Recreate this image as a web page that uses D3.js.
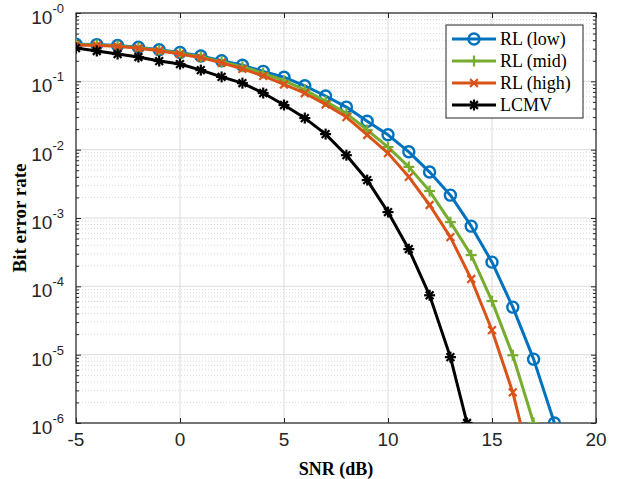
<!DOCTYPE html>
<html>
<head>
<meta charset="utf-8">
<script src="https://cdn.jsdelivr.net/npm/d3@7"></script>
<style>
  body { margin: 0; background: #fff; }
  svg { display: block; }
</style>
</head>
<body>
<div id="chart"></div>
<script>
// SNR points (dB)
const snr = [-5, -4, -3, -2, -1, 0, 1, 2, 3, 4, 5, 6, 7, 8, 9, 10, 11, 12, 13, 14, 15, 16, 17, 18];
const snrLcmv = [-5, -4, -3, -2, -1, 0, 1, 2, 3, 4, 5, 6, 7, 8, 9, 10, 11, 12, 13, 13.8];

// bit error rates
const berLow = [0.35, 0.345, 0.335, 0.315, 0.29, 0.265, 0.235, 0.2, 0.172, 0.14, 0.115, 0.086, 0.061, 0.042,
  0.026, 0.0165, 0.0093, 0.0047, 0.00216, 7.6e-4, 2.26e-4, 4.96e-5, 8.6e-6, 1.0e-6];
const berMid = [0.345, 0.34, 0.33, 0.31, 0.285, 0.258, 0.228, 0.193, 0.163, 0.132, 0.102, 0.075, 0.051, 0.034,
  0.0194, 0.0109, 0.0056, 0.00248, 8.7e-4, 2.86e-4, 6.07e-5, 9.8e-6, 1.0e-6];
const berHigh = [0.34, 0.335, 0.325, 0.305, 0.28, 0.252, 0.222, 0.187, 0.152, 0.12, 0.09, 0.067, 0.046, 0.030,
  0.0164, 0.0089, 0.0040, 0.00155, 5.25e-4, 1.28e-4, 2.28e-5, 2.8e-6, 1.7e-7];
const berLcmv = [0.307, 0.278, 0.251, 0.227, 0.198, 0.179, 0.146, 0.116, 0.094, 0.0674, 0.045, 0.029, 0.0169,
  0.0083, 0.00359, 0.00122, 3.5e-4, 7.4e-5, 9.2e-6, 1.0e-6];

const seriesNames = ["RL (low)", "RL (mid)", "RL (high)", "LCMV"];
const xTicks = [-5, 0, 5, 10, 15, 20];
const yExponents = [0, -1, -2, -3, -4, -5, -6];

function init() {
  const w = 619;
  const h = 479;
  const margin = { left: 76, right: 23, top: 13, bottom: 56 };

  const svg = d3.select("#chart").append("svg").attr("width", w).attr("height", h);

  const x = d3.scaleLinear().domain([-5, 20]).range([margin.left, w - margin.right]);
  const y = d3.scaleLog().domain([1e-6, 1]).range([h - margin.bottom, margin.top]);

  const x0 = x.range()[0], x1 = x.range()[1];
  const yTop = y.range()[1], yBot = y.range()[0];

  // minor log positions 2..9 in each decade
  const minor = [];
  yExponents.slice(1).forEach(function (e) {
    for (let k = 2; k <= 9; k++) minor.push(k * Math.pow(10, e));
  });

  const grid = svg.append("g");
  grid.selectAll("line.minor").data(minor).enter().append("line")
    .attr("x1", x0).attr("x2", x1)
    .attr("y1", (d) => y(d)).attr("y2", (d) => y(d))
    .attr("stroke", "#d8d8d8").attr("stroke-width", 1)
    .attr("stroke-dasharray", "1,2");
  grid.selectAll("line.hmaj").data(yExponents).enter().append("line")
    .attr("x1", x0).attr("x2", x1)
    .attr("y1", (d) => y(Math.pow(10, d))).attr("y2", (d) => y(Math.pow(10, d)))
    .attr("stroke", "#dcdcdc").attr("stroke-width", 1);
  grid.selectAll("line.vmaj").data(xTicks).enter().append("line")
    .attr("x1", (d) => x(d)).attr("x2", (d) => x(d))
    .attr("y1", yTop).attr("y2", yBot)
    .attr("stroke", "#dcdcdc").attr("stroke-width", 1);

  // axes (inward ticks, all four sides)
  const axisColor = "#262626";
  const bottomAxis = d3.axisBottom(x).tickValues(xTicks).tickSize(-5).tickFormat("");
  const topAxis = d3.axisTop(x).tickValues(xTicks).tickSize(-5).tickFormat("");
  svg.append("g").attr("transform", `translate(0,${yBot})`).call(bottomAxis);
  svg.append("g").attr("transform", `translate(0,${yTop})`).call(topAxis);

  const majorVals = yExponents.map((e) => Math.pow(10, e));
  svg.append("g").attr("transform", `translate(${x0},0)`)
    .call(d3.axisLeft(y).tickValues(majorVals).tickSize(-5).tickFormat(""));
  svg.append("g").attr("transform", `translate(${x0},0)`)
    .call(d3.axisLeft(y).tickValues(minor).tickSize(-3).tickFormat(""));
  svg.append("g").attr("transform", `translate(${x1},0)`)
    .call(d3.axisRight(y).tickValues(majorVals).tickSize(-5).tickFormat(""));
  svg.append("g").attr("transform", `translate(${x1},0)`)
    .call(d3.axisRight(y).tickValues(minor).tickSize(-3).tickFormat(""));
  svg.selectAll(".domain").remove();
  svg.selectAll(".tick line").attr("stroke", axisColor);

  svg.append("rect")
    .attr("x", x0).attr("y", yTop)
    .attr("width", x1 - x0).attr("height", yBot - yTop)
    .attr("fill", "none").attr("stroke", axisColor).attr("stroke-width", 1.2);

  // tick labels
  svg.selectAll("text.xt").data(xTicks).enter().append("text")
    .attr("x", (d) => x(d)).attr("y", yBot + 23)
    .attr("text-anchor", "middle")
    .attr("font-family", "Liberation Sans, Arial, sans-serif")
    .attr("font-size", "19px").attr("fill", "#262626")
    .text((d) => d);

  const yt = svg.selectAll("text.yt").data(yExponents).enter().append("text")
    .attr("x", x0 - 12).attr("y", (d) => y(Math.pow(10, d)) + 11)
    .attr("text-anchor", "end")
    .attr("font-family", "Liberation Sans, Arial, sans-serif")
    .attr("fill", "#262626");
  yt.append("tspan").attr("font-size", "19px").text("10");
  yt.append("tspan").attr("font-size", "13px").attr("dy", -11).text((d) => "-" + Math.abs(d));

  // axis titles
  svg.append("text")
    .attr("transform", `translate(26,${(yTop + yBot) / 2}) rotate(-90)`)
    .attr("text-anchor", "middle")
    .attr("font-family", "Liberation Serif, Times New Roman, serif")
    .attr("font-weight", "bold").attr("font-size", "19px")
    .text("Bit error rate");
  svg.append("text")
    .attr("x", (x0 + x1) / 2).attr("y", 475)
    .attr("text-anchor", "middle")
    .attr("font-family", "Liberation Serif, Times New Roman, serif")
    .attr("font-weight", "bold").attr("font-size", "18px")
    .text("SNR (dB)");

  // curves
  svg.append("clipPath").attr("id", "plotclip").append("rect")
    .attr("x", x0).attr("y", yTop).attr("width", x1 - x0).attr("height", yBot - yTop);

  const series = [
    { name: seriesNames[0], xs: snr, ys: berLow, color: "#0072BD", marker: "circle" },
    { name: seriesNames[1], xs: snr, ys: berMid, color: "#77AC30", marker: "plus" },
    { name: seriesNames[2], xs: snr, ys: berHigh, color: "#D95319", marker: "cross" },
    { name: seriesNames[3], xs: snrLcmv, ys: berLcmv, color: "#000000", marker: "star" }
  ];

  const line = d3.line().x((d) => x(d[0])).y((d) => y(d[1]));

  function drawMarker(g, type, color) {
    const r = 5.5;
    if (type === "circle") {
      g.append("circle").attr("r", r).attr("fill", "none")
        .attr("stroke", color).attr("stroke-width", 2.4);
      return;
    }
    let angles = [];
    if (type === "plus") angles = [0, 90];
    if (type === "cross") angles = [45, 135];
    if (type === "star") angles = [0, 45, 90, 135];
    angles.forEach(function (a) {
      const rad = (a * Math.PI) / 180;
      const dx = Math.cos(rad) * r, dy = Math.sin(rad) * r;
      g.append("line").attr("x1", -dx).attr("y1", -dy).attr("x2", dx).attr("y2", dy)
        .attr("stroke", color).attr("stroke-width", 2.2);
    });
  }

  const plot = svg.append("g").attr("clip-path", "url(#plotclip)");
  series.forEach(function (s) {
    const pts = s.xs.map((v, i) => [v, s.ys[i]]);
    plot.append("path").datum(pts)
      .attr("d", line)
      .attr("fill", "none").attr("stroke", s.color)
      .attr("stroke-width", 3).attr("stroke-linejoin", "round");
    pts.filter((p) => p[1] >= 1e-6).forEach(function (p) {
      const g = plot.append("g").attr("transform", `translate(${x(p[0])},${y(p[1])})`);
      drawMarker(g, s.marker, s.color);
    });
  });

  // legend
  const lg = svg.append("g").attr("transform", "translate(446,25)");
  lg.append("rect").attr("width", 137).attr("height", 93)
    .attr("fill", "#fff").attr("stroke", axisColor).attr("stroke-width", 1);
  series.forEach(function (s, i) {
    const cy = 14 + i * 22;
    lg.append("line").attr("x1", 6).attr("x2", 50).attr("y1", cy).attr("y2", cy)
      .attr("stroke", s.color).attr("stroke-width", 3);
    const g = lg.append("g").attr("transform", `translate(28,${cy})`);
    drawMarker(g, s.marker, s.color);
    lg.append("text").attr("x", 54).attr("y", cy + 6)
      .attr("font-family", "Liberation Serif, Times New Roman, serif")
      .attr("font-size", "18px").attr("fill", "#000")
      .text(s.name);
  });
}
window.addEventListener("load", init);
</script>
</body>
</html>
